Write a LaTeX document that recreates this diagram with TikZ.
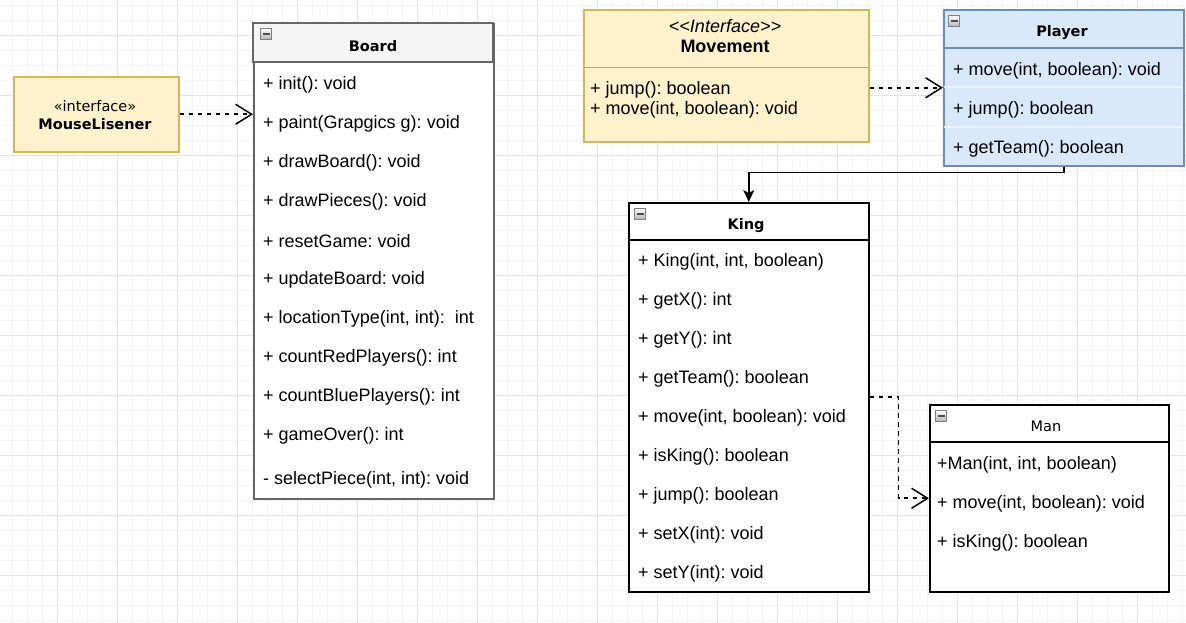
\documentclass[tikz,border=0pt]{standalone}
\usepackage{fontspec}
\setmainfont{Liberation Sans}
\newfontfamily\tahoma{DejaVu Sans}
\usetikzlibrary{arrows.meta}
\frenchspacing
\definecolor{notefill}{HTML}{FFF2CC}
\definecolor{noteline}{HTML}{D6B656}
\definecolor{playerfill}{HTML}{DAE8FC}
\definecolor{playerline}{HTML}{6C8EBF}
\definecolor{boardhead}{HTML}{F5F5F5}
\definecolor{boardline}{HTML}{666666}
\definecolor{gridminor}{HTML}{F4F4F4}
\definecolor{gridmajor}{HTML}{E3E3E3}
\newcommand{\memberfont}{\fontsize{18}{22}\selectfont}
\newcommand{\titlefont}{\tahoma\bfseries\fontsize{14.5}{17}\selectfont}
\newcommand{\plainfont}{\tahoma\fontsize{14.5}{17}\selectfont}
\tikzset{
  classbox/.style={draw, line width=1.5pt, anchor=north west, inner sep=0pt, fill=white},
  member/.style={anchor=west, inner sep=0pt, yshift=-2pt, font=\memberfont},
  classtitle/.style={inner sep=0pt, yshift=-1.5pt, font=\titlefont},
  collapse/.style={draw=black!50, line width=0.8pt, minimum size=11pt, inner sep=0pt,
    top color=white, bottom color=black!30, text=black!70},
  realize/.style={line width=1.7pt, dash pattern=on 4.5pt off 4.5pt,
    -{Straight Barb[length=16pt,width=20pt,line width=1.5pt]}},
  extend/.style={line width=1.5pt, -{Stealth[length=12pt,width=11pt,inset=3pt]}}
}

\begin{document}
\begin{tikzpicture}[x=1pt,y=-1pt]
  \useasboundingbox (0,0) rectangle (1186,622);
  \clip (0,0) rectangle (1186,622);
  \fill[white] (0,0) rectangle (1186,622);
  \begin{scope}[shift={(-2.5,5)}]
    \draw[gridminor, line width=1pt, step=15pt] (0,-15) grid (1200,630);
  \end{scope}
  \begin{scope}[shift={(-2.5,35)}]
    \draw[gridmajor, line width=1pt, step=60pt] (0,-60) grid (1200,600);
  \end{scope}

  \node[classbox, draw=noteline, fill=notefill, minimum width=165pt, minimum height=75pt] (mouse) at (13,76) {};
  \node[inner sep=0pt, font=\plainfont] at (95,106) {«interface»};
  \node[classtitle, yshift=1.5pt] at (95,124) {MouseLisener};

  \node[classbox, draw=boardline, minimum width=240pt, minimum height=475pt] (board) at (253,23) {};
  \filldraw[fill=boardhead, draw=boardline, line width=1.5pt] (board.north west) rectangle (493,62);
  \node[collapse] at (266,34) {\rule{7pt}{2pt}};
  \node[classtitle] at (373,45) {Board};
  \foreach \m [count=\i from 0] in {+ init(): void, + paint(Grapgics g): void, + drawBoard(): void,
      + drawPieces(): void, + resetGame: void, + updateBoard: void, {+ locationType(int, int):\ \ int},
      + countRedPlayers(): int, + countBluePlayers(): int, + gameOver(): int}
    \node[member] at (263,83+39*\i) {\m};
  \node[member] at (263,478) {- selectPiece(int, int): void};

  \node[classbox, draw=noteline, fill=notefill, minimum width=285pt, minimum height=132pt] (movement) at (583,9) {};
  \draw[black!35, line width=1pt] (583,67) -- (868,67);
  \node[inner sep=0pt, yshift=-2pt, font=\memberfont\itshape] at (725,24) {<\kern0pt<Interface>\kern0pt>};
  \node[inner sep=0pt, font=\memberfont\bfseries] at (725,46) {Movement};
  \node[member] at (590,88) {+ jump(): boolean};
  \node[member] at (590,108) {+ move(int, boolean): void};

  \node[classbox, draw=playerline, fill=playerfill, minimum width=240pt, minimum height=156pt] (player) at (943,9) {};
  \draw[white!50!playerfill, line width=1.5pt] (944,87) -- (1182,87) (944,127) -- (1182,127);
  \draw[playerline, line width=1.5pt] (943,48) -- (1183,48);
  \node[collapse] at (954,21) {\rule{7pt}{2pt}};
  \node[classtitle] at (1062,31) {Player};
  \foreach \m [count=\i from 0] in {{+ move(int, boolean): void}, + jump(): boolean, + getTeam(): boolean}
    \node[member] at (953,69+39*\i) {\m};

  \node[classbox, minimum width=240pt, minimum height=389pt] (king) at (628,202) {};
  \draw[line width=1.5pt] (628,240) -- (868,240);
  \node[collapse] at (640,214) {\rule{7pt}{2pt}};
  \node[classtitle, yshift=-1pt] at (746,223) {King};
  \foreach \m [count=\i from 0] in {{+ King(int, int, boolean)}, + getX(): int, + getY(): int,
      + getTeam(): boolean, {+ move(int, boolean): void}, + isKing(): boolean, + jump(): boolean,
      + setX(int): void, + setY(int): void}
    \node[member] at (638,260+39*\i) {\m};

  \node[classbox, minimum width=239pt, minimum height=187pt] (man) at (929,404) {};
  \draw[line width=1.5pt] (929,442) -- (1168,442);
  \node[collapse] at (941,416) {\rule{7pt}{2pt}};
  \node[inner sep=0pt, yshift=-1pt, font=\plainfont] at (1046,425) {Man};
  \foreach \m [count=\i from 0] in {{+Man(int, int, boolean)}, {+ move(int, boolean): void}, + isKing(): boolean}
    \node[member] at (937,463+39*\i) {\m};

  \draw[realize] (mouse.east) -- (board.west |- mouse.east);
  \draw[realize] (movement.east |- player.west) -- (player.west);
  \draw[extend] (player.south) -- ++(0,6) -| (king.north);
  \draw[realize] (king.east) -- ++(29,0) |- (man.west);
\end{tikzpicture}
\end{document}
